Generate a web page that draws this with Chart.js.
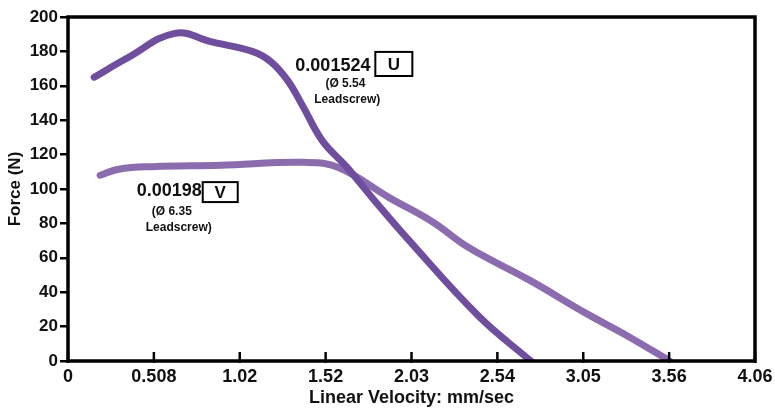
<!doctype html>
<html lang="en">
  <head>
    <meta charset="utf-8">
    <title>Force vs Linear Velocity</title>
    <style>
      * { margin: 0; padding: 0; }
      body { background: #fff; }
      .chartBox { width: 775px; height: 409px; }
    </style>
  </head>
  <body>
    <div class="chartBox">
      <canvas id="myChart" width="775" height="409"></canvas>
    </div>
    <script src="https://cdn.jsdelivr.net/npm/chart.js/dist/chart.umd.min.js"></script>
    <script>
      // data
      const xTickValues = [0, 0.508, 1.016, 1.524, 2.032, 2.54, 3.048, 3.556, 4.064];
      const xTickLabels = ['0', '0.508', '1.02', '1.52', '2.03', '2.54', '3.05', '3.56', '4.06'];
      const yTickValues = [0, 20, 40, 60, 80, 100, 120, 140, 160, 180, 200];

      const uVelocity = [0.155, 0.348, 0.632, 0.85, 1.09, 1.2, 1.3, 1.39, 1.505, 1.647, 1.824, 2.0, 2.43, 2.737];
      const uForce    = [165, 176, 190.5, 185.5, 180, 174, 163, 148, 128, 113, 92, 72, 26, 0];

      const vVelocity = [0.19, 0.30, 0.5, 0.9, 1.4, 1.6, 1.9, 2.155, 2.37, 2.73, 3.06, 3.32, 3.56];
      const vForce    = [108, 111.5, 113, 113.8, 115.5, 112.5, 95, 81, 66, 47, 28, 14, 0];

      const FONT = '"Liberation Sans", Arial, sans-serif';

      const toPoints = (xs, ys) => xs.map((x, i) => ({ x: x, y: ys[i] }));

      // labels placed in data units
      const notes = [
        { value: '0.001524', letter: 'U', x: 1.789, y: 171.5, box: [1.818, 179.7, 2.037, 165.7],
          sub1: '(Ø 5.54', s1: [1.641, 161], sub2: 'Leadscrew)', s2: [1.652, 151.7] },
        { value: '0.00198', letter: 'V', x: 0.791, y: 98.8, box: [0.797, 104, 1.004, 92.4],
          sub1: '(Ø 6.35', s1: [0.614, 86.6], sub2: 'Leadscrew)', s2: [0.655, 77.3] }
      ];

      const frameAndNotes = {
        id: 'frameAndNotes',
        afterDatasetsDraw(chart) {
          const { ctx, chartArea: { left, right, top, bottom }, scales: { x, y } } = chart;
          ctx.save();
          // x ticks point inward
          ctx.strokeStyle = '#000';
          ctx.lineWidth = 2.5;
          xTickValues.forEach(v => {
            const px = x.getPixelForValue(v);
            ctx.beginPath();
            ctx.moveTo(px, bottom + 2);
            ctx.lineTo(px, bottom - 9);
            ctx.stroke();
          });
          // frame
          ctx.lineWidth = 3.5;
          ctx.strokeRect(left, top, right - left, bottom - top);

          // notes
          ctx.fillStyle = '#111';
          notes.forEach(n => {
            ctx.font = 'bold 18px ' + FONT;
            ctx.textAlign = 'right';
            ctx.textBaseline = 'middle';
            ctx.fillText(n.value, x.getPixelForValue(n.x), y.getPixelForValue(n.y));

            const bx1 = x.getPixelForValue(n.box[0]), by1 = y.getPixelForValue(n.box[1]);
            const bx2 = x.getPixelForValue(n.box[2]), by2 = y.getPixelForValue(n.box[3]);
            ctx.lineWidth = 2;
            ctx.strokeRect(bx1, by1, bx2 - bx1, by2 - by1);
            ctx.font = 'bold 17px ' + FONT;
            ctx.textAlign = 'center';
            ctx.fillText(n.letter, (bx1 + bx2) / 2, (by1 + by2) / 2 + 1);

            ctx.font = 'bold 12px ' + FONT;
            ctx.fillText(n.sub1, x.getPixelForValue(n.s1[0]), y.getPixelForValue(n.s1[1]));
            ctx.fillText(n.sub2, x.getPixelForValue(n.s2[0]), y.getPixelForValue(n.s2[1]));
          });
          ctx.restore();
        }
      };

      const data = {
        datasets: [{
          label: 'U',
          data: toPoints(uVelocity, uForce),
          borderColor: '#6f4f9d',
          borderWidth: 7,
          borderCapStyle: 'round',
          borderJoinStyle: 'round',
          tension: 0.4,
          pointRadius: 0,
          fill: false
        }, {
          label: 'V',
          data: toPoints(vVelocity, vForce),
          borderColor: '#8b6caf',
          borderWidth: 7,
          borderCapStyle: 'round',
          borderJoinStyle: 'round',
          tension: 0.4,
          pointRadius: 0,
          fill: false
        }]
      };

      const config = {
        type: 'line',
        data,
        options: {
          responsive: false,
          animation: false,
          devicePixelRatio: 1,
          layout: { padding: { top: 17, right: 20, left: 0, bottom: 0 } },
          plugins: { legend: { display: false }, tooltip: { enabled: false } },
          scales: {
            x: {
              type: 'linear',
              min: 0,
              max: 4.064,
              afterBuildTicks: (scale) => { scale.ticks = xTickValues.map(v => ({ value: v })); },
              afterFit: (scale) => {
                scale.height = 48;
                scale.paddingLeft = 0;
                scale.paddingRight = 0;
              },
              grid: { display: true, drawOnChartArea: false, drawTicks: false },
              border: { display: false },
              ticks: {
                autoSkip: false,
                maxRotation: 0,
                padding: 5,
                color: '#111',
                font: { family: FONT, size: 18, weight: 'bold' },
                callback: (v, i) => xTickLabels[i]
              },
              title: {
                display: true,
                text: 'Linear Velocity: mm/sec',
                color: '#111',
                padding: { top: 0, bottom: 0 },
                font: { family: FONT, size: 18, weight: 'bold' }
              }
            },
            y: {
              min: 0,
              max: 200,
              afterBuildTicks: (scale) => { scale.ticks = yTickValues.map(v => ({ value: v })); },
              afterFit: (scale) => {
                scale.width = 68;
                scale.paddingTop = 0;
                scale.paddingBottom = 0;
              },
              grid: { drawOnChartArea: false, drawTicks: true, tickLength: 8, color: '#000', lineWidth: 2.5 },
              border: { display: false },
              ticks: {
                padding: 2,
                color: '#111',
                font: { family: FONT, size: 17, weight: 'bold' }
              },
              title: {
                display: true,
                text: 'Force (N)',
                color: '#111',
                padding: { top: 5, bottom: 0 },
                font: { family: FONT, size: 17, weight: 'bold' }
              }
            }
          }
        },
        plugins: [frameAndNotes]
      };

      const myChart = new Chart(document.getElementById('myChart'), config);
    </script>
  </body>
</html>
